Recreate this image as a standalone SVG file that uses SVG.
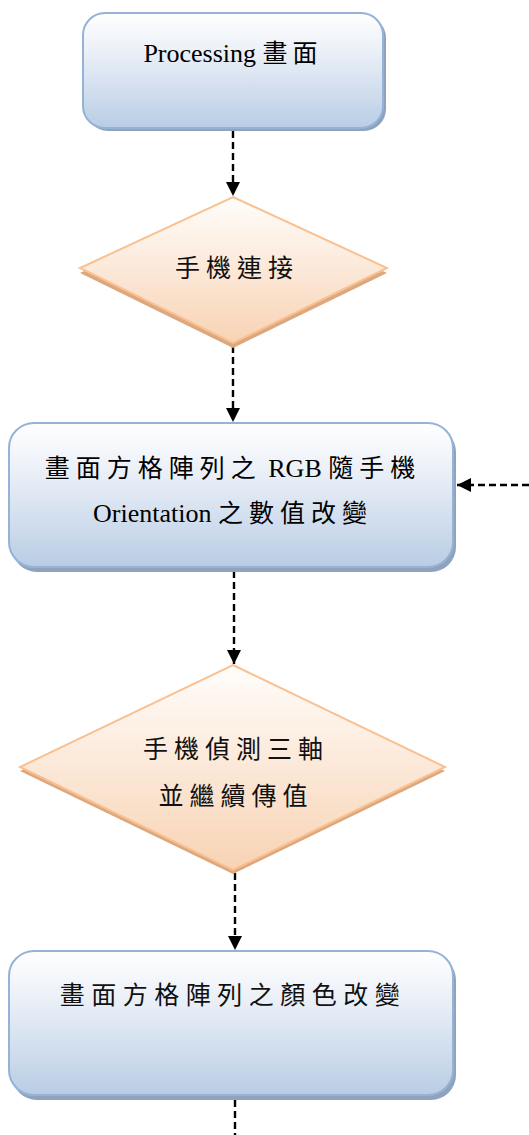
<svg xmlns="http://www.w3.org/2000/svg" width="529" height="1135" viewBox="0 0 529 1135">
<defs>
<linearGradient id="gBox" x1="0" y1="0" x2="0" y2="1">
<stop offset="0" stop-color="#ffffff"/>
<stop offset="0.35" stop-color="#eaeff7"/>
<stop offset="1" stop-color="#b9cde5"/>
</linearGradient>
<linearGradient id="gDia" x1="0" y1="0" x2="0" y2="1">
<stop offset="0" stop-color="#fffdfb"/>
<stop offset="1" stop-color="#f8d3b4"/>
</linearGradient>
<marker id="ah" viewBox="0 0 10 10" refX="10" refY="5" markerWidth="6" markerHeight="6" markerUnits="strokeWidth" orient="auto">
<path d="M0,0 L10,5 L0,10 z" fill="#000"/>
</marker>
</defs>
<style>
.box{fill:url(#gBox);stroke:#95b3d7;stroke-width:2}
.boxsh{fill:#8fa3bc}
.dia{fill:url(#gDia);stroke:#fac090;stroke-width:2}
.diash{fill:#dba87f}
.t{font-family:"Liberation Serif","Noto Sans CJK TC",serif;font-size:26px;fill:#000;text-anchor:middle}
.c{font-family:"Noto Sans CJK TC",serif;font-size:25px;fill:#111;text-anchor:middle;letter-spacing:6px}
.cj{font-family:"Noto Sans CJK TC",serif;letter-spacing:6px}
.conn{fill:none;stroke:#000;stroke-width:2.4;stroke-dasharray:7 4}
</style>
<g id="connectors">
<line class="conn" x1="233" y1="131" x2="233" y2="196" marker-end="url(#ah)"/>
<line class="conn" x1="233" y1="346" x2="233" y2="422" marker-end="url(#ah)"/>
<line class="conn" x1="529" y1="485" x2="457" y2="485" marker-end="url(#ah)"/>
<line class="conn" x1="234" y1="571" x2="234" y2="664" marker-end="url(#ah)"/>
<line class="conn" x1="235" y1="873" x2="235" y2="950" marker-end="url(#ah)"/>
<line class="conn" x1="235" y1="1100" x2="235" y2="1135"/>
</g>
<g id="n1">
<rect class="boxsh" x="86" y="16" width="300" height="115" rx="22"/>
<rect class="box" x="83" y="13" width="300" height="115" rx="22"/>
<text x="233" y="62" class="t"><tspan>Processing </tspan><tspan class="cj" font-size="25" style="letter-spacing:5px">畫面</tspan></text>
</g>
<g id="n2">
<polygon class="diash" points="233,201 387,273 233,348 80,273"/>
<polygon class="dia" points="233,197 387,268 233,343 80,268"/>
<text x="237" y="277" class="c">手機連接</text>
</g>
<g id="n3">
<rect class="boxsh" x="12" y="427" width="444" height="145" rx="25"/>
<rect class="box" x="9" y="423" width="444" height="144" rx="25"/>
<text x="233" y="477" class="t"><tspan class="cj" font-size="25">畫面方格陣列之</tspan><tspan> RGB </tspan><tspan class="cj" font-size="25">隨手機</tspan></text>
<text x="233" y="522" class="t"><tspan>Orientation </tspan><tspan class="cj" font-size="25">之數值改變</tspan></text>
</g>
<g id="n4">
<polygon class="diash" points="233,670 445,771 233,874 20,771"/>
<polygon class="dia" points="233,665 445,767 233,870 20,767"/>
<text x="236" y="758" class="c">手機偵測三軸</text>
<text x="236" y="805" class="c">並繼續傳值</text>
</g>
<g id="n5">
<rect class="boxsh" x="12" y="955" width="444" height="145" rx="25"/>
<rect class="box" x="9" y="951" width="444" height="144" rx="25"/>
<text x="233" y="1004" class="c" style="letter-spacing:6.5px">畫面方格陣列之顏色改變</text>
</g>
</svg>
